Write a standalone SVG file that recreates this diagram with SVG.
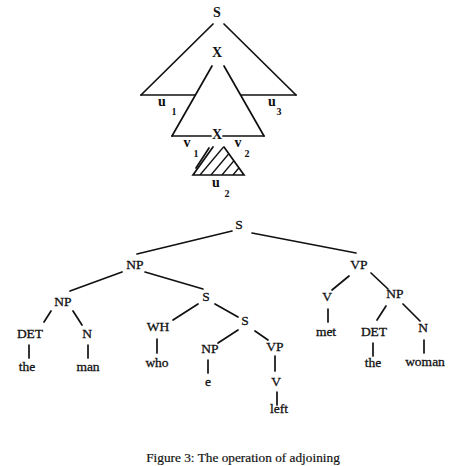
<svg xmlns="http://www.w3.org/2000/svg" width="456" height="466" viewBox="0 0 456 466">
<style>
.l{stroke:#111;stroke-width:1.7;fill:none;stroke-linecap:round}
.h{stroke:#111;stroke-width:1.4;fill:none}
text{font-family:"Liberation Serif","Times New Roman",serif;fill:#111;text-anchor:middle}
.t{font-size:13.5px;stroke:#111;stroke-width:0.3}
.b{font-size:14px;font-weight:bold}
.s{font-size:10px;font-weight:bold}
.u{font-size:14px;font-weight:bold}
.c{font-size:13.3px;stroke:#111;stroke-width:0.2}
</style>
<defs>
<clipPath id="hc"><polygon points="193,175 213,147 224,147 244,175"/></clipPath>
</defs>
<rect width="456" height="466" fill="#fff"/>
<g id="adjoin">
<g id="connectors-top">
<line class="l" x1="213" y1="24" x2="141" y2="95"/>
<line class="l" x1="224" y1="24" x2="296" y2="95"/>
<line class="l" x1="141" y1="95" x2="195" y2="95"/>
<line class="l" x1="241" y1="95" x2="296" y2="95"/>
<line class="l" x1="212" y1="66" x2="172" y2="136"/>
<line class="l" x1="224" y1="66" x2="264" y2="136"/>
<line class="l" x1="172" y1="136" x2="211" y2="136"/>
<line class="l" x1="223" y1="136" x2="264" y2="136"/>
</g>
<g id="hatched">
<polyline class="l" points="213,147 193,175 244,175 224,147"/>
<line class="l" x1="209" y1="148" x2="196" y2="168"/>
<g clip-path="url(#hc)">
<line class="h" x1="200" y1="175" x2="226" y2="144"/>
<line class="h" x1="211" y1="175" x2="237" y2="144"/>
<line class="h" x1="222" y1="175" x2="248" y2="144"/>
<line class="h" x1="233" y1="175" x2="259" y2="144"/>
</g>
</g>
<g id="S-top"><text class="b" x="217" y="17">S</text></g>
<g id="X-top"><text class="b" x="217" y="57">X</text></g>
<g id="X-foot"><text class="b" x="217" y="139">X</text></g>
<g id="u1"><text class="u" x="162" y="106">u</text><text class="s" x="174" y="115">1</text></g>
<g id="u3"><text class="u" x="272" y="106">u</text><text class="s" x="279" y="115">3</text></g>
<g id="v1"><text class="u" x="187" y="147">v</text><text class="s" x="196" y="157">1</text></g>
<g id="v2"><text class="u" x="238" y="147">v</text><text class="s" x="247" y="157">2</text></g>
<g id="u2"><text class="u" x="216" y="187">u</text><text class="s" x="227" y="197">2</text></g>
</g>
<g id="connectors">
<line class="l" x1="232" y1="231" x2="137" y2="254"/>
<line class="l" x1="252" y1="233" x2="356" y2="253"/>
<line class="l" x1="122" y1="272" x2="70" y2="291"/>
<line class="l" x1="145" y1="272" x2="203" y2="289"/>
<line class="l" x1="51" y1="311" x2="44" y2="322"/>
<line class="l" x1="73" y1="311" x2="82" y2="325"/>
<line class="l" x1="29" y1="345" x2="29" y2="358"/>
<line class="l" x1="88" y1="345" x2="88" y2="358"/>
<line class="l" x1="198" y1="304" x2="173" y2="320"/>
<line class="l" x1="215" y1="304" x2="238" y2="317"/>
<line class="l" x1="157" y1="339" x2="157" y2="353"/>
<line class="l" x1="238" y1="330" x2="218" y2="343"/>
<line class="l" x1="255" y1="331" x2="268" y2="340"/>
<line class="l" x1="208" y1="360" x2="208" y2="373"/>
<line class="l" x1="275" y1="356" x2="275" y2="371"/>
<line class="l" x1="277" y1="392" x2="277" y2="405"/>
<line class="l" x1="349" y1="276" x2="332" y2="290"/>
<line class="l" x1="371" y1="273" x2="388" y2="289"/>
<line class="l" x1="328" y1="309" x2="328" y2="322"/>
<line class="l" x1="386" y1="306" x2="377" y2="320"/>
<line class="l" x1="403" y1="304" x2="420" y2="321"/>
<line class="l" x1="373" y1="343" x2="373" y2="356"/>
<line class="l" x1="424" y1="340" x2="424" y2="353"/>
</g>
<g id="S"><text class="t" x="239" y="229">S</text></g>
<g id="NP"><text class="t" x="135" y="269">NP</text></g>
<g id="NP-2"><text class="t" x="63" y="306">NP</text></g>
<g id="DET"><text class="t" x="30" y="338">DET</text></g>
<g id="N"><text class="t" x="87" y="338">N</text></g>
<g id="the"><text class="t" x="27" y="371">the</text></g>
<g id="man"><text class="t" x="88" y="371">man</text></g>
<g id="S-rel"><text class="t" x="206" y="301">S</text></g>
<g id="WH"><text class="t" x="158" y="331">WH</text></g>
<g id="who"><text class="t" x="157" y="367">who</text></g>
<g id="S-2"><text class="t" x="245" y="325">S</text></g>
<g id="NP-e"><text class="t" x="210" y="353">NP</text></g>
<g id="e"><text class="t" x="208" y="386">e</text></g>
<g id="VP-rel"><text class="t" x="275" y="351">VP</text></g>
<g id="V-rel"><text class="t" x="276" y="386">V</text></g>
<g id="left"><text class="t" x="279" y="413">left</text></g>
<g id="VP"><text class="t" x="359" y="269">VP</text></g>
<g id="V"><text class="t" x="327" y="301">V</text></g>
<g id="met"><text class="t" x="326" y="336">met</text></g>
<g id="NP-obj"><text class="t" x="395" y="298">NP</text></g>
<g id="DET-obj"><text class="t" x="374" y="336">DET</text></g>
<g id="the-obj"><text class="t" x="373" y="367">the</text></g>
<g id="N-obj"><text class="t" x="423" y="332">N</text></g>
<g id="woman"><text class="t" x="425" y="366">woman</text></g>
<text class="c" x="243" y="462">Figure 3: The operation of adjoining</text>
</svg>
